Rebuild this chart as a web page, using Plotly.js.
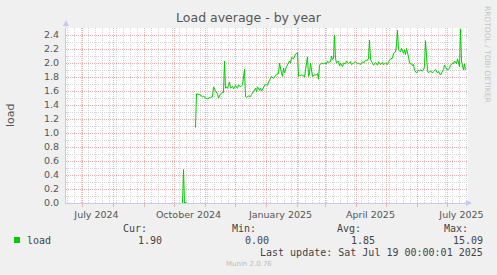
<!DOCTYPE html>
<html><head><meta charset="utf-8">
<script src="https://cdn.plot.ly/plotly-3.0.1.min.js"></script>
<style>html,body{margin:0;padding:0;background:#F0F0F0;}#chart{width:497px;height:275px;}</style>
</head><body><div id="chart"></div>
<script>
// ---- data ----
const dates = [
 '2024-10-09','2024-10-10','2024-10-11','2024-10-12','2024-10-13','2024-10-14',
 '2024-10-22','2024-10-23','2024-10-26','2024-10-29','2024-10-30',
 '2024-11-01','2024-11-03','2024-11-04','2024-11-06','2024-11-08','2024-11-09','2024-11-11','2024-11-13','2024-11-14',
 '2024-11-16','2024-11-18','2024-11-19','2024-11-20','2024-11-21','2024-11-22','2024-11-23','2024-11-25','2024-11-26',
 '2024-11-28','2024-11-29','2024-12-01','2024-12-03','2024-12-04','2024-12-06','2024-12-08','2024-12-09','2024-12-10',
 '2024-12-11','2024-12-12','2024-12-14','2024-12-16','2024-12-17','2024-12-19','2024-12-21','2024-12-22','2024-12-23',
 '2024-12-25','2024-12-26','2024-12-27','2024-12-29','2024-12-31',
 '2025-01-02','2025-01-03','2025-01-05','2025-01-06','2025-01-08','2025-01-09','2025-01-11','2025-01-13','2025-01-14',
 '2025-01-16','2025-01-17','2025-01-18','2025-01-19','2025-01-21','2025-01-23','2025-01-24','2025-01-25','2025-01-26',
 '2025-01-28','2025-01-29','2025-01-30','2025-02-01','2025-02-02','2025-02-03','2025-02-05','2025-02-07','2025-02-08',
 '2025-02-09','2025-02-11','2025-02-12','2025-02-13','2025-02-14','2025-02-16','2025-02-18','2025-02-20','2025-02-21',
 '2025-02-22','2025-02-23','2025-02-25','2025-02-27','2025-02-28','2025-03-02','2025-03-03','2025-03-04','2025-03-06',
 '2025-03-07','2025-03-08','2025-03-09','2025-03-10','2025-03-11','2025-03-12','2025-03-14','2025-03-15','2025-03-16',
 '2025-03-18','2025-03-19','2025-03-21','2025-03-22','2025-03-24','2025-03-26','2025-03-27','2025-03-29','2025-03-31',
 '2025-04-02','2025-04-03','2025-04-05','2025-04-07','2025-04-08','2025-04-10','2025-04-12','2025-04-13','2025-04-14',
 '2025-04-15','2025-04-17','2025-04-18','2025-04-20','2025-04-22','2025-04-23','2025-04-25','2025-04-27','2025-04-28',
 '2025-04-30','2025-05-02','2025-05-03','2025-05-05','2025-05-07','2025-05-08','2025-05-10','2025-05-11','2025-05-12',
 '2025-05-13','2025-05-15','2025-05-16','2025-05-18','2025-05-19','2025-05-20','2025-05-21','2025-05-23','2025-05-24',
 '2025-05-26','2025-05-27','2025-05-28','2025-05-29','2025-05-31','2025-06-01','2025-06-02','2025-06-03','2025-06-04',
 '2025-06-06','2025-06-07','2025-06-08','2025-06-09','2025-06-11','2025-06-12','2025-06-14','2025-06-16','2025-06-17',
 '2025-06-19','2025-06-21','2025-06-22','2025-06-24','2025-06-26','2025-06-27','2025-06-28','2025-06-30','2025-07-01',
 '2025-07-03','2025-07-04','2025-07-06','2025-07-07','2025-07-08','2025-07-10','2025-07-11','2025-07-12','2025-07-13',
 '2025-07-14','2025-07-15','2025-07-17','2025-07-18','2025-07-19'
];
const load = [
 0.00,0.48,0.00,0.01,0.01,null,
 1.08,1.56,1.55,1.52,1.53,
 1.50,1.49,1.50,1.51,1.52,1.66,1.60,1.56,1.50,
 1.56,1.58,1.58,2.03,1.64,1.66,1.64,1.73,1.64,
 1.67,1.63,1.68,1.64,1.69,1.66,1.69,1.77,1.91,
 1.52,1.51,1.53,1.52,1.55,1.59,1.64,1.59,1.66,
 1.61,1.64,1.60,1.66,1.70,
 1.68,1.73,1.78,1.81,1.78,1.80,1.84,1.85,2.00,
 1.86,1.81,1.93,1.86,1.95,2.00,2.03,2.00,2.08,
 2.06,2.11,2.13,2.15,1.81,1.82,1.83,1.82,1.80,
 1.90,2.09,1.81,1.86,2.00,1.81,1.83,1.83,1.85,
 1.77,1.97,2.00,1.99,2.00,1.99,2.03,2.01,2.02,
 2.10,2.05,2.07,2.40,2.07,2.00,2.03,1.96,2.00,
 1.95,2.00,1.99,2.03,1.99,2.02,1.98,2.00,2.02,
 1.99,2.00,1.98,2.02,2.00,2.04,2.04,2.07,2.33,
 2.05,2.00,1.97,2.01,1.97,2.02,1.98,2.01,1.98,
 2.00,1.98,2.02,2.06,2.07,2.14,2.16,2.26,2.47,
 2.19,2.16,2.21,2.14,2.19,2.12,2.21,2.09,2.00,
 1.99,1.96,1.98,1.90,1.86,1.88,1.90,1.89,1.90,
 1.89,1.90,1.95,2.32,1.90,1.86,1.89,1.86,1.88,
 1.91,1.86,1.88,1.83,1.88,1.91,1.97,1.91,1.90,
 1.93,1.97,2.00,1.99,2.03,1.99,2.06,1.99,1.95,
 2.49,2.03,1.90,1.99,1.90
];
const monthStarts = ['2024-07-01','2024-08-01','2024-09-01','2024-10-01','2024-11-01','2024-12-01',
 '2025-01-01','2025-02-01','2025-03-01','2025-04-01','2025-05-01','2025-06-01','2025-07-01'];
const labelDates = ['2024-07-15','2024-10-15','2025-01-15','2025-04-15','2025-07-15'];
const labelText = ['July 2024','October 2024','January 2025','April 2025','July 2025'];
const yTicks = [0,0.2,0.4,0.6,0.8,1.0,1.2,1.4,1.6,1.8,2.0,2.2,2.4];
const seriesName = 'load';
const statLabels = ['Cur:','Min:','Avg:','Max:'];
const statValues = ['1.90','0.00','1.85','15.09'];
const lastUpdate = 'Last update: Sat Jul 19 00:00:01 2025';

// ---- layout helpers (pixel positions) ----
const W=497,H=275,PL=66,PR=468,PT=28,PB=203;
const px = x => (x-PL)/(PR-PL);
const py = y => (PB-y)/(PB-PT);
const RED='#EDB0B0', GRAY='#D4D4D4', AXIS='#C8C8EE', TXT='#555555';
const xRange=['2024-06-14 12:00','2025-07-21 12:00'];

const mono = {family:'DejaVu Sans Mono', size:10, color:'#444444'};
const ann = [];
ann.push({text:'load', x:px(10), y:py(115), xref:'paper', yref:'paper', showarrow:false, textangle:-90,
  font:{family:'DejaVu Sans', size:11, color:TXT}, xanchor:'center', yanchor:'middle'});
ann.push({text:seriesName, x:px(26), y:py(240), xref:'paper', yref:'paper', showarrow:false, font:mono,
  xanchor:'left', yanchor:'middle', borderpad:0});
const labelRight=[148,257,362,469], valueRight=[163,270,376,484];
statLabels.forEach((t,i)=>ann.push({text:t, x:px(labelRight[i]), y:py(228), xref:'paper', yref:'paper',
  showarrow:false, font:mono, xanchor:'right', yanchor:'middle', borderpad:0}));
statValues.forEach((t,i)=>ann.push({text:t, x:px(valueRight[i]), y:py(240), xref:'paper', yref:'paper',
  showarrow:false, font:mono, xanchor:'right', yanchor:'middle', borderpad:0}));
ann.push({text:lastUpdate, x:px(484), y:py(252), xref:'paper', yref:'paper', showarrow:false, font:mono,
  xanchor:'right', yanchor:'middle', borderpad:0});
ann.push({text:'Munin 2.0.76', x:px(249), y:py(264), xref:'paper', yref:'paper', showarrow:false,
  font:{family:'DejaVu Sans', size:7, color:'#BBBBBB'}, xanchor:'center', yanchor:'middle', borderpad:0});
ann.push({text:'RRDTOOL / TOBI OETIKER', x:px(488), y:py(54), xref:'paper', yref:'paper', showarrow:false,
  textangle:90, font:{family:'DejaVu Sans', size:7.5, color:'#C4C4C4'}, xanchor:'center', yanchor:'middle', borderpad:0});
// axis arrows
ann.push({text:'', x:px(66), y:py(20), xref:'paper', yref:'paper', showarrow:true, arrowhead:2, arrowsize:1.2,
  arrowwidth:1, arrowcolor:AXIS, ax:0, ay:9});
ann.push({text:'', x:px(472), y:py(203), xref:'paper', yref:'paper', showarrow:true, arrowhead:2, arrowsize:1.2,
  arrowwidth:1, arrowcolor:AXIS, ax:-9, ay:0});

const shapes = [{type:'rect', xref:'paper', yref:'paper', x0:px(14), x1:px(20), y0:py(243), y1:py(237),
  fillcolor:'#00CC00', line:{width:0}}];

const trace = {x:dates, y:load, type:'scatter', mode:'lines', name:seriesName,
  line:{color:'#00CC00', width:1}, connectgaps:false, hoverinfo:'skip'};
const gridTrace = {x:[dates[0]], y:[null], xaxis:'x2', type:'scatter', mode:'lines', showlegend:false, hoverinfo:'skip'};

const layout = {
  width:W, height:H, margin:{l:PL, r:W-PR, t:PT, b:H-PB, pad:0},
  paper_bgcolor:'#F0F0F0', plot_bgcolor:'#FFFFFF', showlegend:false,
  title:{text:'Load average - by year', x:0.5, xref:'container', xanchor:'center',
    y:1-18/H, yref:'container', yanchor:'middle', font:{family:'DejaVu Sans', size:12.5, color:TXT}},
  xaxis:{type:'date', range:xRange, tickmode:'array', tickvals:labelDates, ticktext:labelText,
    showgrid:false, zeroline:false, ticks:'', showline:true, linecolor:AXIS, linewidth:1,
    tickfont:{family:'DejaVu Sans', size:9.5, color:TXT}, ticklabelstandoff:3, fixedrange:true},
  xaxis2:{type:'date', overlaying:'x', matches:'x', range:xRange, tickmode:'array', tickvals:monthStarts,
    showticklabels:false, showgrid:true, gridcolor:RED, griddash:'1px,1px', gridwidth:1,
    ticks:'outside', ticklen:3, tickcolor:RED, side:'bottom', zeroline:false,
    minor:{tickmode:'linear', tick0:'2024-06-23', dtick:7*86400000, showgrid:true, gridcolor:GRAY,
      griddash:'1px,1px', ticks:''}},
  yaxis:{range:[0,2.502], tickmode:'array', tickvals:yTicks, tickformat:'.1f', showgrid:true, gridcolor:RED,
    griddash:'1px,1px', zeroline:false, showline:true, linecolor:AXIS, linewidth:1, ticks:'',
    tickfont:{family:'DejaVu Sans', size:9.5, color:TXT}, ticklabelstandoff:4,
    minor:{tickmode:'linear', tick0:0, dtick:0.1, showgrid:true, gridcolor:GRAY, griddash:'1px,1px'}},
  annotations:ann, shapes:shapes
};
Plotly.newPlot('chart', [gridTrace, trace], layout, {staticPlot:true, displayModeBar:false});
</script></body></html>
